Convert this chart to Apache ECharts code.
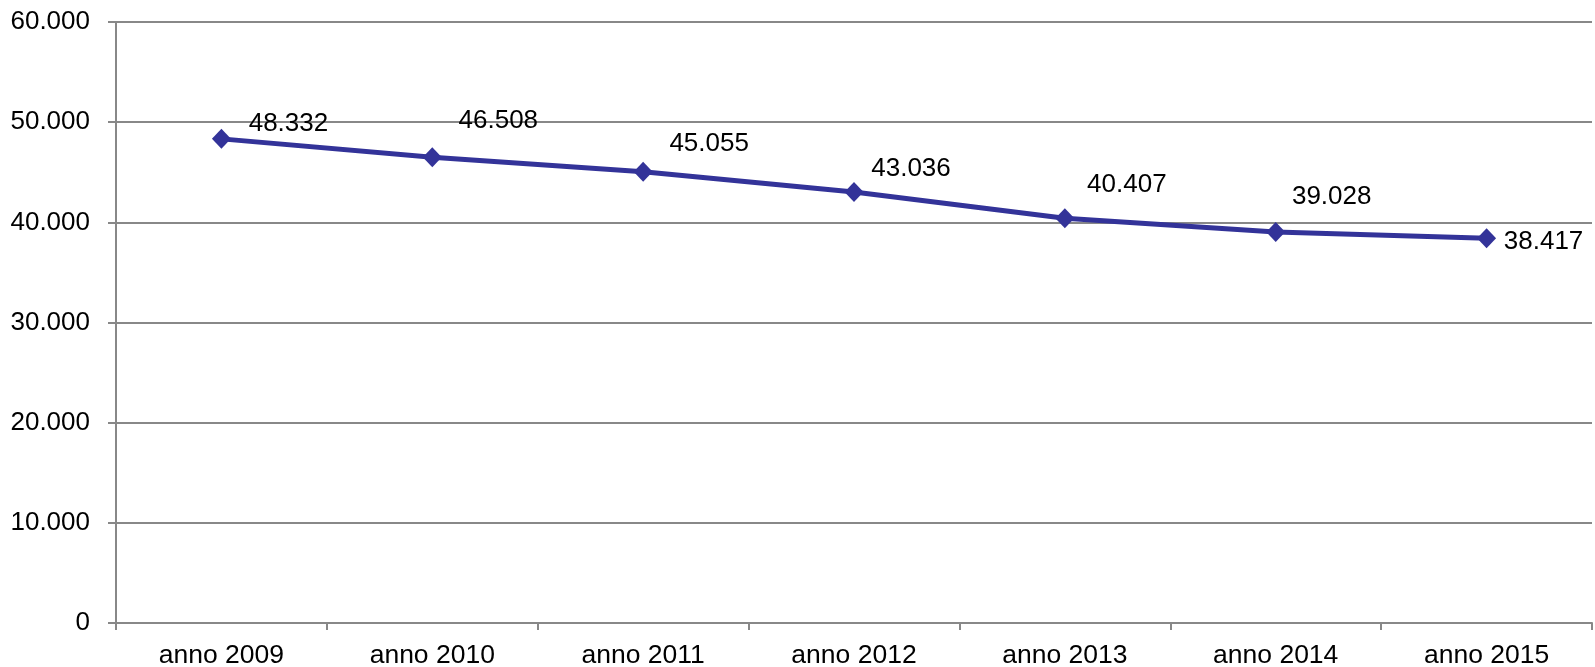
<!DOCTYPE html>
<html>
<head>
<meta charset="utf-8">
<script src="https://cdn.jsdelivr.net/npm/echarts@6/dist/echarts.min.js"></script>
<style>html,body{margin:0;padding:0;background:#fff}#c{width:1595px;height:667px}</style>
</head>
<body>
<div id="c"></div>
<script>
const categories = ['anno 2009','anno 2010','anno 2011','anno 2012','anno 2013','anno 2014','anno 2015'];
const values = [48332, 46508, 45055, 43036, 40407, 39028, 38417];
const yTicks = [0, 10000, 20000, 30000, 40000, 50000, 60000];
const labelOffsets = [[67,-15],[66,-36],[66,-28],[57,-23],[62,-33],[56,-35],[57,4]];

const fmt = v => v === 0 ? '0' : String(v).replace(/\B(?=(\d{3})+(?!\d))/g, '.');
const font = 'Liberation Sans, Arial, sans-serif';

const chart = echarts.init(document.getElementById('c'), null, {renderer:'canvas'});
chart.setOption({
  animation:false,
  backgroundColor:'#fff',
  grid:{left:116,right:3,top:22,bottom:44,containLabel:false,outerBoundsMode:'none'},
  xAxis:{
    type:'category',
    data:categories,
    boundaryGap:true,
    axisLine:{lineStyle:{color:'#888',width:2}},
    axisTick:{show:true,length:7,lineStyle:{color:'#888',width:2}},
    axisLabel:{color:'#000',fontSize:26.5,fontFamily:font,margin:19}
  },
  yAxis:{
    type:'value',
    min:yTicks[0],max:yTicks[yTicks.length-1],interval:yTicks[1]-yTicks[0],
    axisLine:{show:true,lineStyle:{color:'#888',width:2}},
    axisTick:{show:true,length:8,lineStyle:{color:'#888',width:2}},
    splitLine:{lineStyle:{color:'#888',width:2}},
    axisLabel:{color:'#000',fontSize:26,fontFamily:font,margin:26,formatter:fmt}
  },
  series:[{
    type:'line',
    data:values.map((v,i)=>({value:v,label:{offset:labelOffsets[i]}})),
    symbol:'diamond',
    symbolSize:[19,20],
    lineStyle:{color:'#333399',width:5},
    itemStyle:{color:'#333399'},
    label:{show:true,position:'inside',color:'#000',fontSize:26,fontFamily:font,formatter:p=>fmt(p.value)}
  }]
});
</script>
</body>
</html>
